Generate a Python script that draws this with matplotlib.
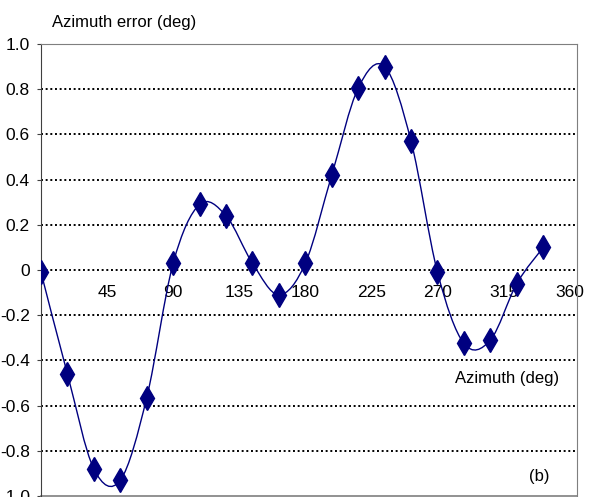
import numpy as np
import matplotlib
matplotlib.use("Agg")
import matplotlib.pyplot as plt
from matplotlib.path import Path
from matplotlib.patches import PathPatch

plt.rcParams['font.family'] = ['Liberation Sans', 'DejaVu Sans']

# azimuth samples (deg) and measured error (deg)
azimuth = [0, 18, 36, 54, 72, 90, 108, 126, 144, 162,
           180, 198, 216, 234, 252, 270, 288, 306, 324, 342]
az_error = [-0.01, -0.46, -0.88, -0.93, -0.565, 0.03, 0.29, 0.24, 0.03, -0.11,
            0.03, 0.42, 0.805, 0.90, 0.57, -0.01, -0.325, -0.31, -0.06, 0.10]
x_ticks = [45, 90, 135, 180, 225, 270, 315, 360]
y_ticks = [-1.0, -0.8, -0.6, -0.4, -0.2, 0, 0.2, 0.4, 0.6, 0.8, 1.0]

NAVY = "#000080"


def smooth_path(xs, ys):
    # Excel-like smoothed line: cubic bezier segments through the points
    p = np.column_stack([xs, ys]).astype(float)
    ext = np.vstack([p[0], p, p[-1]])
    verts = [p[0]]
    codes = [Path.MOVETO]
    for i in range(len(p) - 1):
        p0, p1, p2, p3 = ext[i], ext[i + 1], ext[i + 2], ext[i + 3]
        c1 = p1 + (p2 - p0) / 6.0
        c2 = p2 - (p3 - p1) / 6.0
        verts += [c1, c2, p2]
        codes += [Path.CURVE4] * 3
    return Path(verts, codes)


fig = plt.figure(figsize=(5.9, 4.97), dpi=100)
ax = fig.add_axes([41 / 590, 1 / 497, 536 / 590, 452 / 497])

ax.set_xlim(0, 365)
ax.set_ylim(-1.0, 1.0)

# horizontal dotted grid
for yv in y_ticks[1:-1]:
    ax.axhline(yv, color="black", linestyle=(0, (1, 1.4)), linewidth=1.4, zorder=1)

ax.add_patch(PathPatch(smooth_path(azimuth, az_error), facecolor="none",
                       edgecolor=NAVY, linewidth=1.0, zorder=2))
ax.plot(azimuth, az_error, linestyle="none", marker="d", markersize=12.5,
        markerfacecolor=NAVY, markeredgecolor=NAVY, zorder=3)

# axes: x labels sit on the y=0 line
ax.spines['bottom'].set_position(('data', 0))
ax.spines['bottom'].set_visible(False)
for s in ['top', 'right']:
    ax.spines[s].set_color("#7f7f7f")
ax.spines['left'].set_color("#404040")
ax.plot([0, 1], [0, 0], transform=ax.transAxes, color="#7f7f7f",
        linewidth=1.2, clip_on=False)

ax.set_xticks(x_ticks)
ax.set_xticklabels([str(v) for v in x_ticks])
ax.tick_params(axis='x', length=0, pad=11, labelsize=12.5)
ax.set_yticks(y_ticks)
ax.set_yticklabels(["0" if v == 0 else "%.1f" % v for v in y_ticks])
ax.tick_params(axis='y', length=3, pad=5, labelsize=12.5, color="#404040")

fig.text(52 / 590, 1 - 22 / 497, "Azimuth error (deg)", fontsize=12,
         ha="left", va="center")
fig.text(455 / 590, 1 - 378 / 497, "Azimuth (deg)", fontsize=12,
         ha="left", va="center")
fig.text(529 / 590, 1 - 476 / 497, "(b)", fontsize=12, ha="left", va="center")

fig.savefig("out.png", dpi=100)
